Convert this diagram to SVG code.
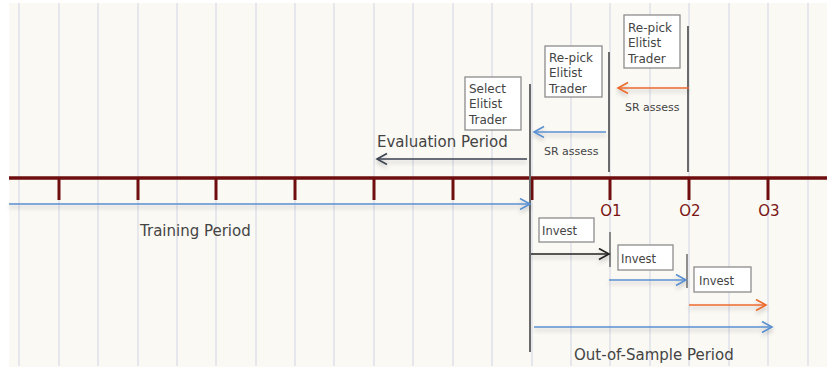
<svg xmlns="http://www.w3.org/2000/svg" width="827" height="367" viewBox="0 0 827 367">
<style>
.grid{stroke:#e6e7ec;stroke-width:2}
.tick{stroke:#6e0e0e;stroke-width:3}
.vline{stroke:#6a6a6a;stroke-width:2}
.box{fill:#ffffff;stroke:#8c8c8c;stroke-width:1.3}
.btxt{font-family:"DejaVu Sans",sans-serif;font-size:12px;fill:#444}
.lbl{font-family:"DejaVu Sans",sans-serif;font-size:15px;fill:#444}
.small{font-family:"DejaVu Sans",sans-serif;font-size:11px;fill:#444}
.olbl{font-family:"DejaVu Sans",sans-serif;font-size:15px;fill:#7a1515;text-anchor:middle}
.arr{fill:none;stroke-width:1.6;filter:url(#sh)}
</style>
<defs>
<filter id="sh" filterUnits="userSpaceOnUse" x="0" y="0" width="827" height="367">
<feDropShadow dx="0" dy="3" stdDeviation="2" flood-color="#000" flood-opacity="0.22"/>
</filter>
<marker id="mBlue" markerUnits="userSpaceOnUse" markerWidth="14" markerHeight="14" refX="11" refY="6" orient="auto"><path d="M1,0.5 L11,6 L1,11.5" fill="none" stroke="#5a8fd0" stroke-width="1.6"/></marker>
<marker id="mOrange" markerUnits="userSpaceOnUse" markerWidth="14" markerHeight="14" refX="11" refY="6" orient="auto"><path d="M1,0.5 L11,6 L1,11.5" fill="none" stroke="#ec6a2c" stroke-width="1.6"/></marker>
<marker id="mDark" markerUnits="userSpaceOnUse" markerWidth="14" markerHeight="14" refX="11" refY="6" orient="auto"><path d="M1,0.5 L11,6 L1,11.5" fill="none" stroke="#3a4250" stroke-width="1.6"/></marker>
<marker id="mBlack" markerUnits="userSpaceOnUse" markerWidth="14" markerHeight="14" refX="11" refY="6" orient="auto"><path d="M1,0.5 L11,6 L1,11.5" fill="none" stroke="#222" stroke-width="1.6"/></marker>
</defs>
<rect x="0" y="0" width="827" height="367" fill="#ffffff"/>
<rect x="9" y="3" width="818" height="364" fill="#fbf9f4"/>
<g id="grid">
<line class="grid" x1="19" y1="3" x2="19" y2="366"/>
<line class="grid" x1="59" y1="3" x2="59" y2="366"/>
<line class="grid" x1="98" y1="3" x2="98" y2="366"/>
<line class="grid" x1="138" y1="3" x2="138" y2="366"/>
<line class="grid" x1="177" y1="3" x2="177" y2="366"/>
<line class="grid" x1="216" y1="3" x2="216" y2="366"/>
<line class="grid" x1="256" y1="3" x2="256" y2="366"/>
<line class="grid" x1="295" y1="3" x2="295" y2="366"/>
<line class="grid" x1="334" y1="3" x2="334" y2="366"/>
<line class="grid" x1="374" y1="3" x2="374" y2="366"/>
<line class="grid" x1="413" y1="3" x2="413" y2="366"/>
<line class="grid" x1="453" y1="3" x2="453" y2="366"/>
<line class="grid" x1="492" y1="3" x2="492" y2="366"/>
<line class="grid" x1="532" y1="3" x2="532" y2="366"/>
<line class="grid" x1="571" y1="3" x2="571" y2="366"/>
<line class="grid" x1="610" y1="3" x2="610" y2="366"/>
<line class="grid" x1="650" y1="3" x2="650" y2="366"/>
<line class="grid" x1="689" y1="3" x2="689" y2="366"/>
<line class="grid" x1="729" y1="3" x2="729" y2="366"/>
<line class="grid" x1="768" y1="3" x2="768" y2="366"/>
<line class="grid" x1="808" y1="3" x2="808" y2="366"/>
</g>
<g id="timeline">
<line x1="9" y1="178" x2="827" y2="178" stroke="#6e0e0e" stroke-width="3.4"/>
<line class="tick" x1="59" y1="178" x2="59" y2="200"/>
<line class="tick" x1="138" y1="178" x2="138" y2="200"/>
<line class="tick" x1="216" y1="178" x2="216" y2="200"/>
<line class="tick" x1="295" y1="178" x2="295" y2="200"/>
<line class="tick" x1="374" y1="178" x2="374" y2="200"/>
<line class="tick" x1="453" y1="178" x2="453" y2="200"/>
<line class="tick" x1="532" y1="178" x2="532" y2="200"/>
<line class="tick" x1="610" y1="178" x2="610" y2="200"/>
<line class="tick" x1="689" y1="178" x2="689" y2="200"/>
<line class="tick" x1="768" y1="178" x2="768" y2="200"/>
</g>
<g id="o1"><text class="olbl" x="611" y="216">O1</text></g>
<g id="o2"><text class="olbl" x="690" y="216">O2</text></g>
<g id="o3"><text class="olbl" x="769" y="216">O3</text></g>
<g id="markers-vertical">
<line class="vline" x1="530" y1="84" x2="530" y2="352"/>
<line class="vline" x1="609" y1="52" x2="609" y2="172"/>
<line class="vline" x1="688" y1="26" x2="688" y2="172"/>
<line x1="610" y1="232" x2="610" y2="267" stroke="#555" stroke-width="1.3"/>
<line x1="687" y1="254" x2="687" y2="288" stroke="#555" stroke-width="1.3"/>
</g>
<g id="connectors">
<line class="arr" x1="9" y1="204" x2="530" y2="204" stroke="#5a8fd0" marker-end="url(#mBlue)"/>
<line class="arr" x1="527" y1="159" x2="377" y2="159" stroke="#3a4250" marker-end="url(#mDark)"/>
<line class="arr" x1="606" y1="132" x2="534" y2="132" stroke="#5a8fd0" marker-end="url(#mBlue)"/>
<line class="arr" x1="689" y1="88" x2="618" y2="88" stroke="#ec6a2c" marker-end="url(#mOrange)"/>
<line class="arr" x1="531" y1="254" x2="609" y2="254" stroke="#222" marker-end="url(#mBlack)"/>
<line class="arr" x1="609" y1="280" x2="686" y2="280" stroke="#5a8fd0" marker-end="url(#mBlue)"/>
<line class="arr" x1="689" y1="305" x2="766" y2="305" stroke="#ec6a2c" marker-end="url(#mOrange)"/>
<line class="arr" x1="534" y1="327" x2="772" y2="327" stroke="#5a8fd0" marker-end="url(#mBlue)"/>
</g>
<g id="training-label"><text class="lbl" x="140" y="236">Training Period</text></g>
<g id="evaluation-label"><text class="lbl" x="377" y="147">Evaluation Period</text></g>
<g id="oos-label"><text class="lbl" x="574" y="360">Out-of-Sample Period</text></g>
<g id="sr1"><text class="small" x="544" y="155">SR assess</text></g>
<g id="sr2"><text class="small" x="625" y="111">SR assess</text></g>
<g id="select-box">
<rect class="box" x="465" y="77" width="56" height="53"/>
<text class="btxt" x="469" y="93">Select</text>
<text class="btxt" x="469" y="108">Elitist</text>
<text class="btxt" x="469" y="124">Trader</text>
</g>
<g id="repick1-box">
<rect class="box" x="545" y="46" width="57" height="51"/>
<text class="btxt" x="549" y="62">Re-pick</text>
<text class="btxt" x="549" y="77">Elitist</text>
<text class="btxt" x="549" y="93">Trader</text>
</g>
<g id="repick2-box">
<rect class="box" x="624" y="15" width="56" height="53"/>
<text class="btxt" x="628" y="32">Re-pick</text>
<text class="btxt" x="628" y="47">Elitist</text>
<text class="btxt" x="628" y="63">Trader</text>
</g>
<g id="invest1">
<rect class="box" x="539" y="218" width="55" height="24"/>
<text class="btxt" x="542" y="235" style="font-size:11.5px">Invest</text>
</g>
<g id="invest2">
<rect class="box" x="618" y="245" width="55" height="25"/>
<text class="btxt" x="621" y="263" style="font-size:11.5px">Invest</text>
</g>
<g id="invest3">
<rect class="box" x="694" y="267" width="57" height="25"/>
<text class="btxt" x="699" y="285" style="font-size:11.5px">Invest</text>
</g>
</svg>
